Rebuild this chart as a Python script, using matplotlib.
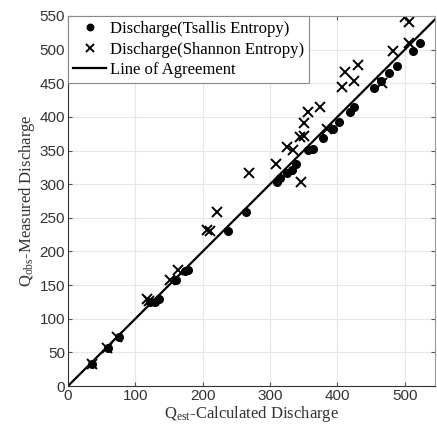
import matplotlib
matplotlib.use('Agg')
import matplotlib.pyplot as plt

plt.rcParams['mathtext.fontset'] = 'custom'
plt.rcParams['mathtext.rm'] = 'Liberation Serif'
plt.rcParams['mathtext.it'] = 'Liberation Serif:italic'

# Tsallis entropy discharge (calculated, measured)
ts_est = [35, 60, 75, 122, 129, 135, 161, 174, 178, 237, 264, 310, 315, 325, 332, 339,
          357, 364, 379, 393, 402, 418, 425, 455, 465, 477, 489, 512, 523]
ts_obs = [33, 56, 73, 125, 125, 130, 157, 171, 172, 231, 258, 303, 309, 316, 321, 330,
          351, 353, 369, 382, 392, 407, 414, 443, 454, 465, 476, 498, 510]

# Shannon entropy discharge (calculated, measured)
sh_est = [35, 58, 73, 118, 120, 152, 164, 206, 211, 221, 269, 309, 325, 334, 346, 345,
          350, 351, 357, 374, 384, 407, 412, 424, 431, 466, 483, 500, 507, 507]
sh_obs = [33, 57, 73, 130, 127, 158, 173, 232, 231, 258, 316, 330, 356, 351, 303, 370,
          371, 391, 407, 414, 382, 444, 467, 454, 477, 451, 498, 549, 541, 510]

agree = [0, 550]

fig = plt.figure(figsize=(4.37, 4.30), dpi=100)
ax = fig.add_axes([0.1556, 0.1023, 0.84, 0.8605])

ax.plot(ts_est, ts_obs, 'o', color='black', markersize=5.5, label='Discharge(Tsallis Entropy)')
ax.plot(sh_est, sh_obs, 'x', color='black', markersize=7, markeredgewidth=1.4,
        label='Discharge(Shannon Entropy)')
ax.plot(agree, agree, '-', color='black', linewidth=1.6, label='Line of Agreement')

ax.set_xlim(0, 545)
ax.set_ylim(0, 550)
ax.set_xticks([0, 100, 200, 300, 400, 500])
ax.set_yticks(range(0, 551, 50))
ax.grid(True, color='#e6e6e6', linewidth=0.8)
ax.set_axisbelow(True)
ax.tick_params(direction='in', length=3, labelsize=11, top=True, right=True,
               color='#555555', labelcolor='#333333', pad=2)
for lab in ax.get_xticklabels() + ax.get_yticklabels():
    lab.set_family('Liberation Sans')
for side in ['top', 'right']:
    ax.spines[side].set_color('#999999')
for side in ['left', 'bottom']:
    ax.spines[side].set_color('#333333')

ax.set_xlabel(r'Q$_{\mathrm{est}}$-Calculated Discharge', family='Liberation Serif',
              fontsize=12, labelpad=1, color='#333333')
ax.set_ylabel(r'Q$_{\mathrm{obs}}$-Measured Discharge', family='Liberation Serif',
              fontsize=12, labelpad=2, color='#333333')

leg = ax.legend(loc='upper left', borderaxespad=0, fancybox=False, framealpha=1,
                edgecolor='#888888', prop={'family': 'Liberation Serif', 'size': 12},
                handlelength=2.0, handletextpad=0.2, labelspacing=0.28, borderpad=0.3,
                markerscale=0.85)
leg.get_frame().set_linewidth(0.8)

fig.savefig('out.png', dpi=100)
